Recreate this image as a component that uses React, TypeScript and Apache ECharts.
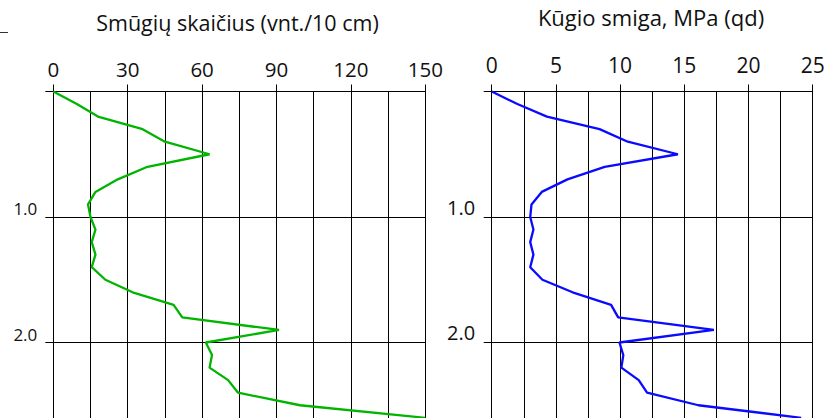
import React, { useEffect, useRef } from "react";
import * as echarts from "echarts";

const depths = [0, 0.1, 0.2, 0.3, 0.4, 0.5, 0.6, 0.7, 0.8, 0.9, 1.0, 1.1, 1.2, 1.3, 1.4, 1.5, 1.6, 1.7, 1.8, 1.9, 2.0, 2.1, 2.2, 2.3, 2.4, 2.5, 2.6];
const blows = [0, 9.5, 18, 36, 45, 63, 38, 26, 17, 14, 15, 17, 15.5, 17, 15.5, 21, 32, 48.5, 52, 91, 61.5, 64, 63, 70.5, 74.5, 99.5, 150];
const qd = [0, 2.0, 4.3, 8.4, 10.6, 14.5, 8.8, 5.9, 3.9, 3.1, 3.0, 3.25, 3.0, 3.25, 3.0, 3.95, 6.3, 9.3, 9.85, 17.3, 9.95, 10.25, 10.1, 11.45, 12.1, 16.1, 24.1];

const leftTitle = "Smūgių skaičius (vnt./10 cm)";
const rightTitle = "Kūgio smiga, MPa (qd)";

const FONT = "'Open Sans', 'Noto Sans', sans-serif";

export default function App() {
  const ref = useRef<HTMLDivElement>(null);
  useEffect(() => {
    if (!ref.current) return;
    const chart = echarts.init(ref.current, null, { renderer: "svg" });
    const yBase = (gridIndex: number, fontSize: number, margin: number) => ({
      type: "value",
      gridIndex,
      inverse: true,
      min: 0,
      max: 3,
      interval: 1,
      axisLine: { show: false },
      axisTick: { show: true, length: 8, lineStyle: { color: "#000", width: 1 } },
      splitLine: { show: true, lineStyle: { color: "#000", width: 1 } },
      axisLabel: {
        margin,
        fontSize,
        fontFamily: FONT,
        color: "#111",
        verticalAlign: "bottom",
        formatter: (v: number) => (v === 1 || v === 2 ? v.toFixed(1) : ""),
      },
    });
    const xBase = (gridIndex: number, max: number, interval: number, fontSize: number, margin: number) => ({
      type: "value",
      gridIndex,
      position: "top",
      min: 0,
      max,
      interval,
      axisLine: { show: true, onZero: false, lineStyle: { color: "#000", width: 1 } },
      axisTick: { show: true, length: 7, lineStyle: { color: "#000", width: 1 } },
      splitLine: { show: true, lineStyle: { color: "#000", width: 1 } },
      minorTick: { show: false, splitNumber: 2 },
      minorSplitLine: { show: true, lineStyle: { color: "#000", width: 1 } },
      axisLabel: { margin, fontSize, fontFamily: FONT, color: "#111" },
    });
    chart.setOption({
      animation: false,
      backgroundColor: "#fff",
      grid: [
        { left: 53.3, top: 91.5, width: 372, height: 376.5, outerBoundsMode: "none", containLabel: false },
        { left: 491.7, top: 91.5, width: 321, height: 376.5, outerBoundsMode: "none", containLabel: false },
      ],
      xAxis: [xBase(0, 150, 30, 20.5, 12), xBase(1, 25, 5, 21, 16)],
      yAxis: [yBase(0, 17, 16), yBase(1, 20, 16.5)],
      graphic: [
        { type: "text", x: 237.5, y: 22.5, style: { text: leftTitle, font: `21.5px ${FONT}`, fill: "#111", align: "center", verticalAlign: "middle" } },
        { type: "text", x: 651, y: 16.7, style: { text: rightTitle, font: `22px ${FONT}`, fill: "#111", align: "center", verticalAlign: "middle" } },
        { type: "line", shape: { x1: 0, y1: 32.5, x2: 8, y2: 32.5 }, style: { stroke: "#333", lineWidth: 1 } },
      ],
      series: [
        {
          type: "line",
          xAxisIndex: 0,
          yAxisIndex: 0,
          data: depths.map((d, i) => [blows[i], d]),
          showSymbol: false,
          lineStyle: { color: "#00b400", width: 2.3 },
          clip: false,
        },
        {
          type: "line",
          xAxisIndex: 1,
          yAxisIndex: 1,
          data: depths.map((d, i) => [qd[i], d]),
          showSymbol: false,
          lineStyle: { color: "#0a0aff", width: 2.3 },
          clip: false,
        },
      ],
    });
    return () => chart.dispose();
  }, []);
  return (
    <div
      ref={ref}
      style={{ position: "fixed", left: 0, top: 0, width: 825, height: 418, background: "#fff" }}
    />
  );
}
